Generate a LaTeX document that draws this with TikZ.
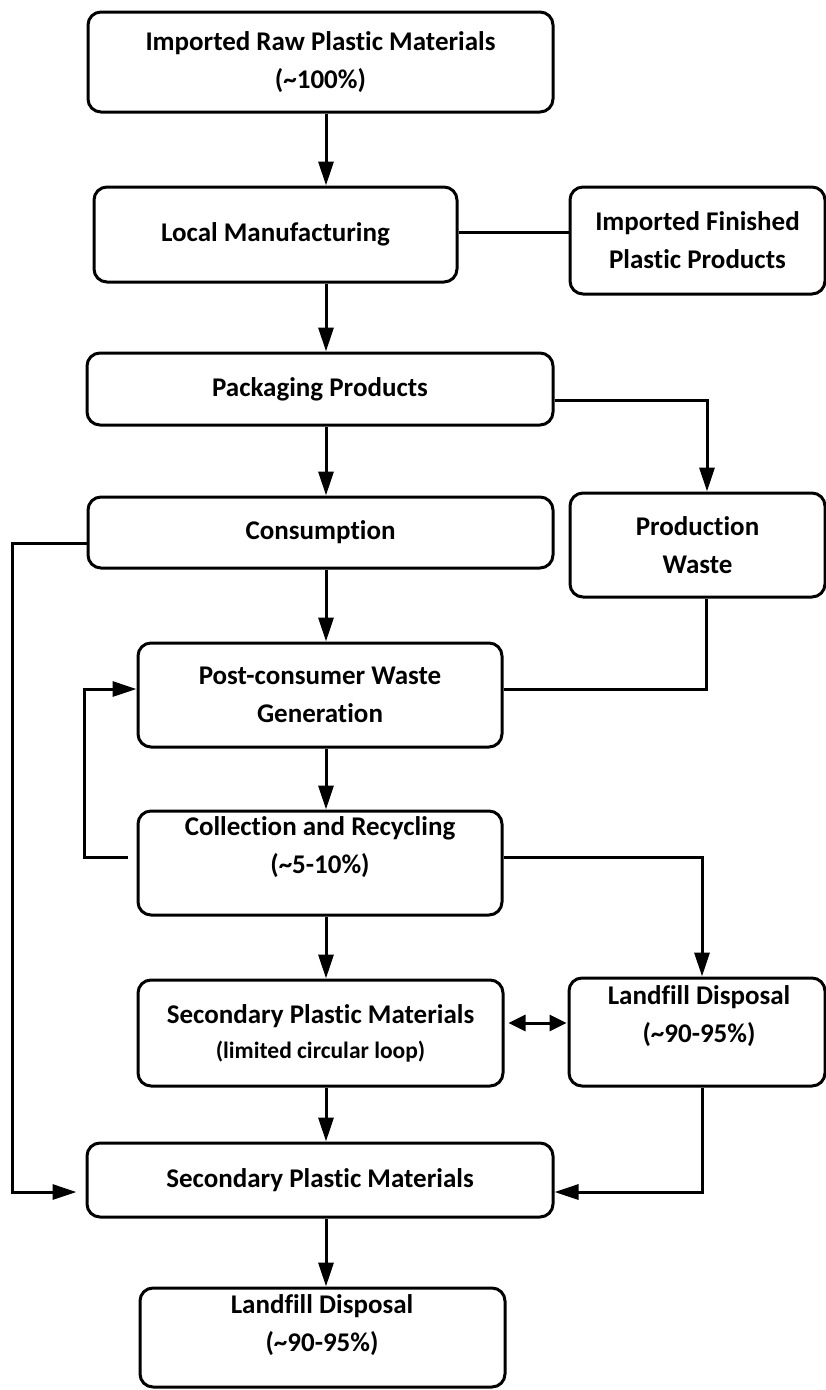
\documentclass[tikz,border=0pt]{standalone}
\usepackage{fontspec}
\setmainfont[Ligatures=NoCommon]{Carlito}
\usetikzlibrary{arrows.meta,calc}
\begin{document}
\begin{tikzpicture}[x=1pt,y=-1pt,
  box/.style={draw,line width=3pt,rounded corners=13pt,align=center,inner sep=0pt,
    font=\bfseries\fontsize{27}{38}\selectfont},
  txt/.style={align=center,inner sep=0pt,font=\bfseries\fontsize{27}{38}\selectfont},
  ln/.style={line width=3pt},
  arr/.style={line width=3pt,-{Triangle[length=24pt,width=15pt]}},
  dbl/.style={line width=3pt,{Triangle[length=17pt,width=16pt]}-{Triangle[length=17pt,width=16pt]}}]
\useasboundingbox (0,0) rectangle (826,1390);
\coordinate (colx) at (326,0);
% boxes
\node[box,minimum width=465pt,minimum height=100pt] (raw) at (320.5,62) {Imported Raw Plastic Materials\\(\textasciitilde100\%)};
\node[box,minimum width=363pt,minimum height=95pt] (lm) at (275.5,234.5) {Local Manufacturing};
\node[box,minimum width=255pt,minimum height=107pt] (ifp) at (697.5,240.5) {Imported Finished\\Plastic Products};
\node[box,minimum width=466pt,minimum height=72pt] (pack) at (320,389) {Packaging Products};
\node[box,minimum width=465pt,minimum height=71pt] (cons) at (320.5,532.5) {Consumption};
\node[box,minimum width=255pt,minimum height=104pt] (pw) at (697.5,545) {Production\\Waste};
\node[box,minimum width=364pt,minimum height=104pt] (pc) at (320,695) {Post-consumer Waste\\Generation};
\node[box,minimum width=364pt,minimum height=104pt] (coll) at (320,863) {};
\node[txt] (collT) at (320,847) {Collection and Recycling\\(\textasciitilde5-10\%)};
\node[box,minimum width=365pt,minimum height=106pt] (sl) at (320.5,1033) {Secondary Plastic Materials\\[-3pt]{\fontsize{23.5}{35}\selectfont(limited circular loop)}};
\node[box,minimum width=256pt,minimum height=108pt] (lr) at (697,1032) {};
\node[txt] (lrT) at (699,1016) {Landfill Disposal\\(\textasciitilde90-95\%)};
\node[box,minimum width=466pt,minimum height=74pt] (s2) at (320,1180) {Secondary Plastic Materials};
\node[box,minimum width=365pt,minimum height=99pt] (fl) at (322.5,1337.5) {};
\node[txt] (flT) at (322,1325) {Landfill Disposal\\(\textasciitilde90-95\%)};
% connectors
\draw[arr] (raw.south -| colx) -- (lm.north -| colx);
\draw[ln] ($(lm.east)+(0,-2.5)$) -- ($(lm.east -| ifp.west)+(0,-2.5)$);
\draw[arr] (lm.south -| colx) -- (pack.north -| colx);
\draw[arr] (pack.south -| colx) -- (cons.north -| colx);
\draw[arr] ($(pack.east)+(0,11)$) -| ($(pw.north)+(9.5,0)$);
\draw[arr] ($(cons.west)+(0,10.5)$) -| ($(s2.west)+(-73,12)$) -- ($(s2.west)+(-9,12)$);
\draw[arr] (cons.south -| colx) -- (pc.north -| colx);
\draw[ln] ($(pw.south)+(8.5,0)$) |- ($(pc.east)+(0,-6)$);
\draw[arr] (pc.south -| colx) -- (coll.north -| colx);
\draw[arr] ($(coll.west)+(-9,-6)$) -| ($(pc.west)+(-52,-6)$) -- ($(pc.west)+(0,-6)$);
\draw[arr] ($(coll.east)+(0,-6)$) -| ($(lr.north)+(5,0)$);
\draw[arr] (coll.south -| colx) -- (sl.north -| colx);
\draw[dbl] ($(sl.east)+(4,-10)$) -- ($(sl.east -| lr.west)+(-1,-10)$);
\draw[arr] (sl.south -| colx) -- (s2.north -| colx);
\draw[arr] ($(lr.south)+(5,0)$) |- ($(s2.east)+(0,12)$);
\draw[arr] (s2.south -| colx) -- (fl.north -| colx);
\end{tikzpicture}
\end{document}
